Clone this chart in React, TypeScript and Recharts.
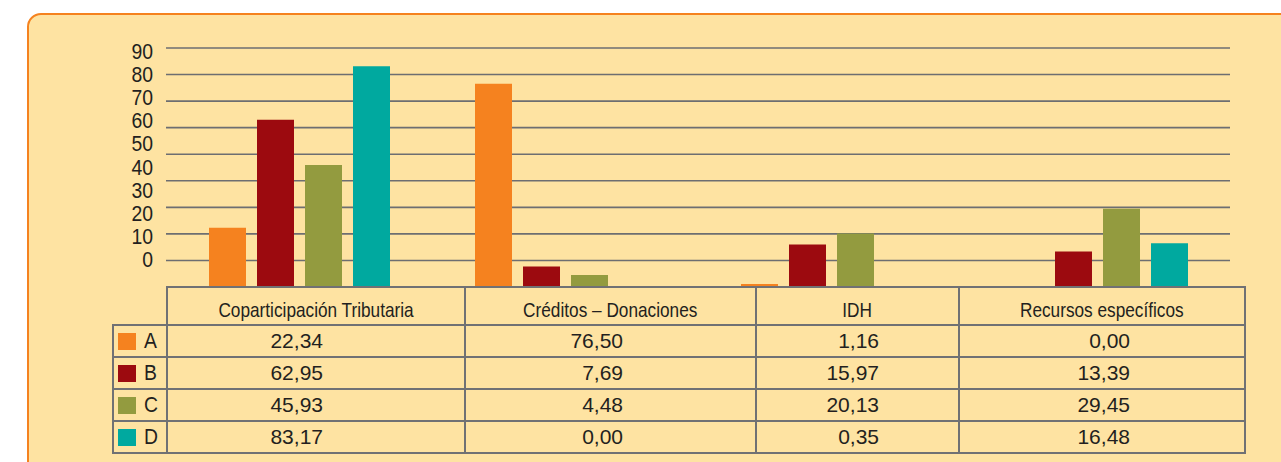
import { BarChart, Bar, XAxis, YAxis, CartesianGrid } from 'recharts';

const categories = ['Coparticipación Tributaria', 'Créditos – Donaciones', 'IDH', 'Recursos específicos'];
const seriesA = [22.34, 76.5, 1.16, 0.0];
const seriesB = [62.95, 7.69, 15.97, 13.39];
const seriesC = [45.93, 4.48, 20.13, 29.45];
const seriesD = [83.17, 0.0, 0.35, 16.48];
const seriesNames = ['A', 'B', 'C', 'D'];
const yTicks = [0, 10, 20, 30, 40, 50, 60, 70, 80, 90];

const seriesValues = [seriesA, seriesB, seriesC, seriesD];
const colors = ['#F5821F', '#9C0A0F', '#939B3F', '#00A99F'];

const data = categories.map((name, i) => ({
  name,
  A: seriesA[i],
  B: seriesB[i],
  C: seriesC[i],
  D: seriesD[i],
}));

const font = "'Liberation Sans', Arial, sans-serif";
const ink = '#231F20';
const line = '2px solid #707174';

// table geometry
const colWidths = [54, 298, 291, 203, 286];
const numPad = [141, 132, 79, 114];

const fmt = (v: number) => v.toFixed(2).replace('.', ',');

// condensed-looking tick labels
const LabelTick = ({ x, y, payload }: any) => (
  <text
    transform={`translate(${x},${y}) scale(0.88,1)`}
    textAnchor="end"
    dominantBaseline="central"
    fill={ink}
    fontSize={22}
    fontFamily={font}
  >
    {payload.value}
  </text>
);

const Narrow = ({ children, s = 0.82 }: any) => (
  <span style={{ display: 'inline-block', transform: `scaleX(${s})`, transformOrigin: 'center' }}>{children}</span>
);

export default function App() {
  return (
    <div style={{ position: 'fixed', left: 0, top: 0, width: 1281, height: 462, overflow: 'hidden', background: '#fff' }}>
      <div
        style={{
          position: 'absolute',
          left: 27,
          top: 13,
          width: 1300,
          height: 520,
          background: '#FEE3A2',
          border: '2.5px solid #F5821F',
          borderRadius: 14,
          boxSizing: 'border-box',
        }}
      />
      <div style={{ position: 'absolute', left: 0, top: 0 }}>
        <BarChart
          width={1281}
          height={290}
          data={data}
          margin={{ top: 48, right: 51, bottom: 3, left: 106 }}
          barSize={37}
          barGap={11}
        >
          <CartesianGrid vertical={false} stroke="#6D6E71" strokeWidth={1.6} />
          <XAxis dataKey="name" hide />
          <YAxis orientation="right" domain={[0, 90]} ticks={yTicks} hide allowDataOverflow />
          <YAxis
            yAxisId="lbl"
            type="number"
            domain={[-12.1, 91.3]}
            ticks={yTicks}
            allowDataOverflow
            width={60}
            axisLine={false}
            tickLine={false}
            tickSize={0}
            tickMargin={13}
            interval={0}
            tick={<LabelTick />}
          />
          {seriesNames.map((s, i) => (
            <Bar key={s} dataKey={s} fill={colors[i]} isAnimationActive={false} />
          ))}
        </BarChart>
      </div>
      <table
        style={{
          position: 'absolute',
          left: 112,
          top: 286,
          borderCollapse: 'collapse',
          tableLayout: 'fixed',
          width: colWidths.reduce((a, b) => a + b, 0),
          color: ink,
          fontFamily: font,
        }}
      >
        <colgroup>
          {colWidths.map((w, i) => (
            <col key={i} style={{ width: w }} />
          ))}
        </colgroup>
        <tbody>
          <tr style={{ height: 38 }}>
            <td style={{ border: 'none', borderRight: line }} />
            {categories.map((c) => (
              <td
                key={c}
                style={{
                  border: line,
                  textAlign: 'center',
                  fontSize: 21,
                  padding: '8px 0 0 0',
                  whiteSpace: 'nowrap',
                }}
              >
                <Narrow>{c}</Narrow>
              </td>
            ))}
          </tr>
          {seriesNames.map((s, r) => (
            <tr key={s} style={{ height: 32 }}>
              <td style={{ border: line, padding: 0, fontSize: 22, whiteSpace: 'nowrap' }}>
                <span
                  style={{
                    display: 'inline-block',
                    width: 18,
                    height: 17,
                    background: colors[r],
                    marginLeft: 4,
                    marginRight: 7,
                    verticalAlign: -2,
                  }}
                />
                <Narrow s={0.88}>{s}</Narrow>
              </td>
              {seriesValues[r].map((v, c) => (
                <td
                  key={c}
                  style={{
                    border: line,
                    textAlign: 'right',
                    paddingRight: numPad[c],
                    paddingTop: 0,
                    paddingBottom: 0,
                    fontSize: 21,
                  }}
                >
                  {fmt(v)}
                </td>
              ))}
            </tr>
          ))}
        </tbody>
      </table>
    </div>
  );
}
